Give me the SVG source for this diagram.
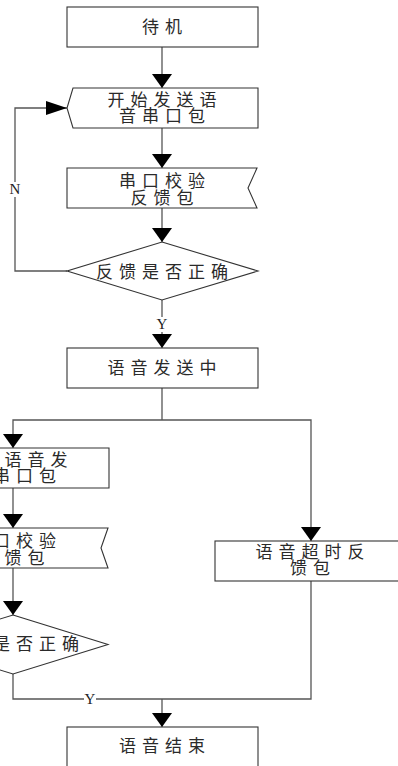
<svg xmlns="http://www.w3.org/2000/svg" width="398" height="766" viewBox="0 0 398 766">
<style>
.box{fill:#fff;stroke:#333;stroke-width:1.1}
.con{fill:none;stroke:#555;stroke-width:1.3}
.t{font-family:"Noto Sans CJK SC",sans-serif;font-size:17px;letter-spacing:6px;fill:#2a2a2a;text-anchor:middle}
.lbl{font-family:"Liberation Serif",serif;font-size:15px;fill:#222;text-anchor:middle}
.bg{fill:#fff}
</style>
<defs>
<marker id="av" markerUnits="userSpaceOnUse" markerWidth="14" markerHeight="20" viewBox="0 0 14 20" refX="14" refY="10" orient="auto"><path d="M0,0 L14,10 L0,20 z" fill="#000"/></marker>
<marker id="ah" markerUnits="userSpaceOnUse" markerWidth="21" markerHeight="14" viewBox="0 0 21 14" refX="21" refY="7" orient="auto"><path d="M0,0 L21,7 L0,14 z" fill="#000"/></marker>
</defs>
<rect width="398" height="766" fill="#fff"/>
<g id="connectors">
<path class="con" d="M162,47 V88" marker-end="url(#av)"/>
<path class="con" d="M162,128 V168" marker-end="url(#av)"/>
<path class="con" d="M162,208 V242" marker-end="url(#av)"/>
<path class="con" d="M67,271 H15 V108 H67" marker-end="url(#ah)"/>
<path class="con" d="M162,300 V348" marker-end="url(#av)"/>
<path class="con" d="M162,388 V420"/>
<path class="con" d="M162,420 H13 V448" marker-end="url(#av)"/>
<path class="con" d="M162,420 H311 V541" marker-end="url(#av)"/>
<path class="con" d="M13,488 V528" marker-end="url(#av)"/>
<path class="con" d="M13,568 V615" marker-end="url(#av)"/>
<path class="con" d="M13,674 V699 H311 V581"/>
<path class="con" d="M162,699 V727" marker-end="url(#av)"/>
<rect class="bg" x="9" y="182" width="12" height="15"/>
<text class="lbl" x="15" y="194">N</text>
<rect class="bg" x="156" y="317" width="12" height="15"/>
<text class="lbl" x="162" y="329">Y</text>
<rect class="bg" x="84" y="692" width="12" height="14"/>
<text class="lbl" x="90" y="704">Y</text>
</g>
<g id="standby">
<rect class="box" x="67" y="7" width="191" height="40"/>
<text class="t" x="165" y="33">待机</text>
</g>
<g id="start-send">
<path class="box" d="M73,88 H258 V128 H73 L67,108 Z"/>
<text class="t" x="165" y="105.5">开始发送语</text>
<text class="t" x="165" y="121.5">音串口包</text>
</g>
<g id="check-feedback">
<path class="box" d="M67,168 H257 L248,188 L257,208 H67 Z"/>
<text class="t" x="165" y="186.5">串口校验</text>
<text class="t" x="165" y="203.5">反馈包</text>
</g>
<g id="feedback-ok">
<path class="box" d="M162,242 L258,271 L162,300 L67,271 Z"/>
<text class="t" x="165" y="277.5">反馈是否正确</text>
</g>
<g id="sending">
<rect class="box" x="67" y="348" width="191" height="40"/>
<text class="t" x="165" y="373.5">语音发送中</text>
</g>
<g id="continue-send">
<path class="box" d="M-76,448 H109 V488 H-76 L-82,468 Z"/>
<text class="t" x="39" y="465.5">语音发</text>
<text class="t" x="27.5" y="481.5">串口包</text>
</g>
<g id="check-feedback-2">
<path class="box" d="M-82,528 H108 L101,548 L108,568 H-82 Z"/>
<text class="t" x="27.5" y="546.5">口校验</text>
<text class="t" x="16" y="563.5">反馈包</text>
</g>
<g id="feedback-ok-2">
<path class="box" d="M13,615 L108,644.5 L13,674 L-82,644.5 Z"/>
<text class="t" x="39" y="650">是否正确</text>
</g>
<g id="timeout">
<rect class="box" x="215" y="541" width="191" height="40"/>
<text class="t" x="313" y="558">语音超时反</text>
<text class="t" x="313" y="574">馈包</text>
</g>
<g id="end">
<rect class="box" x="67" y="727" width="191" height="41"/>
<text class="t" x="165" y="752">语音结束</text>
</g>
</svg>
